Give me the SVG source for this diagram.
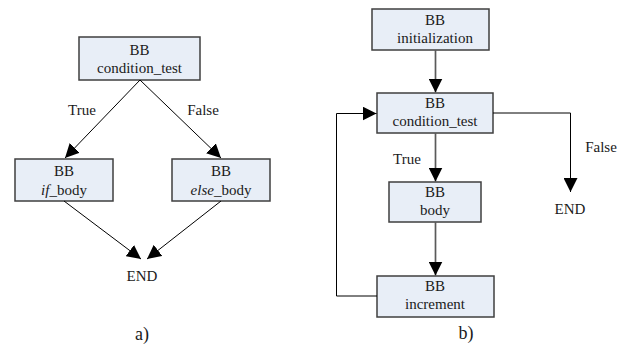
<svg xmlns="http://www.w3.org/2000/svg" width="625" height="347" viewBox="0 0 625 347" font-family="'Liberation Serif', 'DejaVu Serif', serif">
  <defs>
    <style>
      .box { fill: #e8eef7; stroke: #3f3f3f; stroke-width: 1.5; }
      .lbl { font-family: 'Liberation Serif', 'DejaVu Serif', serif; font-size: 15px; fill: #1a1a1a; text-anchor: middle; }
      .cap { font-size: 18px; }
      .thin { fill: none; stroke: #000; stroke-width: 1; }
      .gray { fill: none; stroke: #5a5a5a; stroke-width: 1.7; }
      .it { font-style: italic; }
    </style>
    <marker id="arrow" markerUnits="userSpaceOnUse" markerWidth="15" markerHeight="14" refX="14" refY="7" orient="auto">
      <path d="M0,0 L14,7 L0,14 z" fill="#000"/>
    </marker>
  </defs>

  <!-- (a) if / else -->
  <g id="a-cond">
    <rect class="box" x="79" y="37" width="121" height="43"/>
    <text class="lbl" x="139.5" y="54.5">BB</text>
    <text class="lbl" x="139.5" y="72.5">condition_test</text>
  </g>
  <g id="a-if">
    <rect class="box" x="15" y="159" width="98" height="42"/>
    <text class="lbl" x="64" y="175.5">BB</text>
    <text class="lbl" x="64" y="194.5"><tspan class="it">if</tspan>_body</text>
  </g>
  <g id="a-else">
    <rect class="box" x="172" y="159" width="98" height="42"/>
    <text class="lbl" x="221" y="175.5">BB</text>
    <text class="lbl" x="221" y="194.5"><tspan class="it">else</tspan>_body</text>
  </g>
  <g id="a-end">
    <text class="lbl" x="142" y="280.5">END</text>
  </g>

  <!-- (b) loop -->
  <g id="b-init">
    <rect class="box" x="372" y="9" width="117" height="41"/>
    <text class="lbl" x="435" y="25">BB</text>
    <text class="lbl" x="435" y="43">initialization</text>
  </g>
  <g id="b-cond">
    <rect class="box" x="377" y="93" width="116" height="40"/>
    <text class="lbl" x="435" y="108">BB</text>
    <text class="lbl" x="435" y="126">condition_test</text>
  </g>
  <g id="b-body">
    <rect class="box" x="389" y="182" width="92" height="40"/>
    <text class="lbl" x="435" y="197">BB</text>
    <text class="lbl" x="435" y="215">body</text>
  </g>
  <g id="b-incr">
    <rect class="box" x="377" y="276" width="117" height="41"/>
    <text class="lbl" x="435" y="291">BB</text>
    <text class="lbl" x="435" y="309">increment</text>
  </g>
  <g id="b-end">
    <text class="lbl" x="570" y="214">END</text>
  </g>

  <!-- connectors -->
  <g id="connectors">
    <line class="thin" x1="140" y1="80" x2="65" y2="158" marker-end="url(#arrow)"/>
    <line class="thin" x1="140" y1="80" x2="221" y2="158" marker-end="url(#arrow)"/>
    <line class="thin" x1="64" y1="201" x2="141" y2="259" marker-end="url(#arrow)"/>
    <line class="thin" x1="221" y1="201" x2="147" y2="259" marker-end="url(#arrow)"/>

    <line class="gray" x1="435.5" y1="50" x2="435.5" y2="92.5" marker-end="url(#arrow)"/>
    <line class="gray" x1="435.5" y1="133" x2="435.5" y2="181.5" marker-end="url(#arrow)"/>
    <line class="gray" x1="435.5" y1="222" x2="435.5" y2="275.5" marker-end="url(#arrow)"/>
    <polyline class="thin" points="377,296 336.5,296 336.5,113.5 376.5,113.5" marker-end="url(#arrow)"/>
    <polyline class="thin" points="493,113 570.5,113 570.5,192" marker-end="url(#arrow)"/>
  </g>

  <!-- edge labels and captions -->
  <text class="lbl" x="82" y="115">True</text>
  <text class="lbl" x="203" y="115">False</text>
  <text class="lbl" x="407" y="164">True</text>
  <text class="lbl" x="601" y="152">False</text>
  <text class="lbl cap" x="142" y="340">a)</text>
  <text class="lbl cap" x="466" y="339">b)</text>
</svg>
